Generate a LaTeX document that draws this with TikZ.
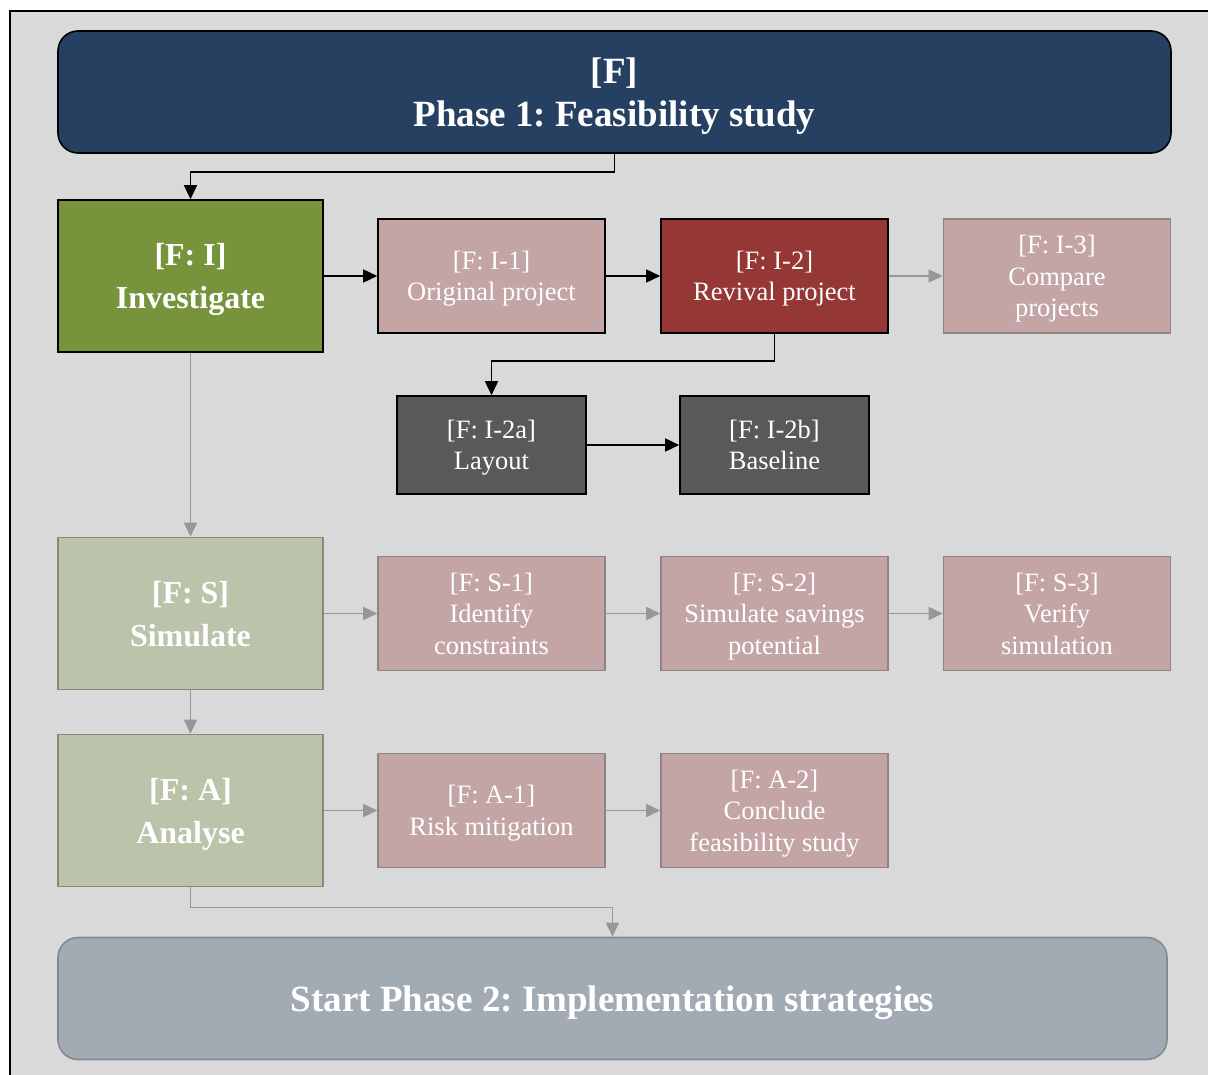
\documentclass[tikz,border=0pt]{standalone}
\usepackage{fontspec}
\setmainfont{Liberation Serif}
\usetikzlibrary{arrows.meta}
\frenchspacing

\definecolor{panelbg}{HTML}{D9D9D9}
\definecolor{navy}{HTML}{264061}
\definecolor{olive}{HTML}{77933C}
\definecolor{rose}{HTML}{C4A5A6}
\definecolor{roseline}{HTML}{8F8485}
\definecolor{wine}{HTML}{953735}
\definecolor{slate}{HTML}{595959}
\definecolor{sage}{HTML}{BBC4AB}
\definecolor{sageline}{HTML}{848B79}
\definecolor{mist}{HTML}{A2AAB3}
\definecolor{mistline}{HTML}{868A8F}
\definecolor{greyflow}{HTML}{979797}

\tikzset{
  box/.style={rectangle, inner sep=0pt, align=center, text=white, line width=1.6pt},
  phasebox/.style={box, rounded corners=20pt, minimum width=1113pt, minimum height=122pt,
    text depth=-2pt, font=\bfseries\fontsize{37}{43}\selectfont},
  mainbox/.style={box, minimum width=265pt, minimum height=152pt,
    text depth=0pt, font=\bfseries\fontsize{32}{43}\selectfont},
  subbox/.style={box, minimum width=227pt, minimum height=114pt,
    text depth=-1.5pt, font=\fontsize{26.5}{31.5}\selectfont},
  detailbox/.style={box, minimum width=189pt, minimum height=98pt,
    text depth=-1.5pt, font=\fontsize{26.5}{31.5}\selectfont},
  active/.style={draw=black},
  pending/.style={draw=roseline, fill=rose},
  flow/.style={line width=1.6pt, draw=black, -{Triangle[length=14pt,width=13pt]}},
  faint/.style={line width=1.6pt, draw=greyflow, -{Triangle[length=14pt,width=13pt]}},
}

\begin{document}
\begin{tikzpicture}[x=1pt, y=-1pt]
  \useasboundingbox (0,0) rectangle (1208,1075);
  \clip (0,0) rectangle (1208,1075);
  \fill[white] (0,0) rectangle (1208,1075);
  \draw[line width=2pt, fill=panelbg] (10,11) rectangle (1230,1100);

  % phase headers
  \node[phasebox, draw=black, fill=navy] (p1) at (614.5,92) {[F]\\Phase 1: Feasibility study};
  \node[phasebox, minimum width=1109pt, draw=mistline, fill=mist] (p2) at (612.5,998.5)
    {Start Phase 2: Implementation strategies};

  % investigate row
  \node[mainbox, active, fill=olive] (inv) at (190.5,276) {[F: I]\\Investigate};
  \node[subbox, active, fill=rose] (i1) at (491.5,276) {[F: I-1]\\Original project};
  \node[subbox, active, fill=wine] (i2) at (774.5,276) {[F: I-2]\\Revival project};
  \node[subbox, pending] (i3) at (1057,276) {[F: I-3]\\Compare\\projects};
  \node[detailbox, active, fill=slate] (i2a) at (491.5,445) {[F: I-2a]\\Layout};
  \node[detailbox, active, fill=slate] (i2b) at (774.5,445) {[F: I-2b]\\Baseline};

  % simulate row
  \node[mainbox, draw=sageline, fill=sage] (sim) at (190.5,613.5) {[F: S]\\Simulate};
  \node[subbox, pending] (s1) at (491.5,613.5) {[F: S-1]\\Identify\\constraints};
  \node[subbox, pending] (s2) at (774.5,613.5) {[F: S-2]\\Simulate savings\\potential};
  \node[subbox, pending] (s3) at (1057,613.5) {[F: S-3]\\Verify\\simulation};

  % analyse row
  \node[mainbox, draw=sageline, fill=sage] (an) at (190.5,810.5) {[F: A]\\Analyse};
  \node[subbox, pending] (a1) at (491.5,810.5) {[F: A-1]\\Risk mitigation};
  \node[subbox, pending] (a2) at (774.5,810.5) {[F: A-2]\\Conclude\\feasibility study};

  % completed connections
  \draw[flow] (p1.south) -- ++(0,18) -| (inv.north);
  \draw[flow] (inv.east) -- (i1.west);
  \draw[flow] (i1.east) -- (i2.west);
  \draw[flow] (i2.south) -- ++(0,27) -| (i2a.north);
  \draw[flow] (i2a.east) -- (i2b.west);

  % open connections
  \draw[faint] (i2.east) -- (i3.west);
  \draw[faint] (inv.south) -- (sim.north);
  \draw[faint] (sim.east) -- (s1.west);
  \draw[faint] (s1.east) -- (s2.west);
  \draw[faint] (s2.east) -- (s3.west);
  \draw[faint] (sim.south) -- (an.north);
  \draw[faint] (an.east) -- (a1.west);
  \draw[faint] (a1.east) -- (a2.west);
  \draw[faint] (an.south) -- ++(0,20) -| (p2.north);
\end{tikzpicture}
\end{document}
